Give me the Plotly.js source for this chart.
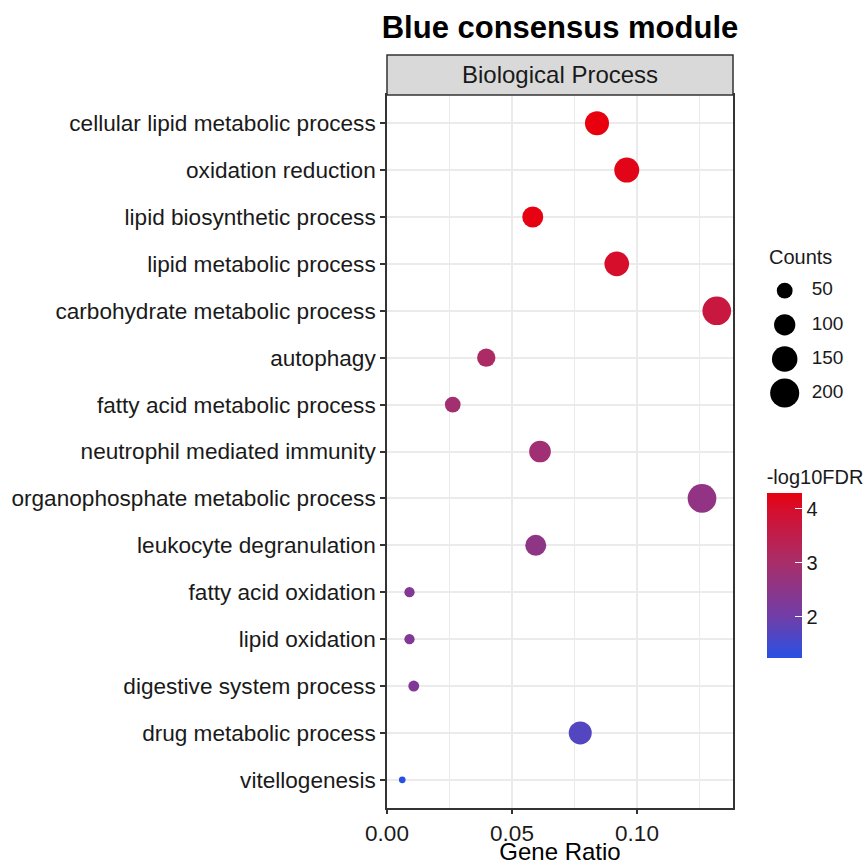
<!DOCTYPE html>
<html>
<head>
<meta charset="utf-8">
<script src="https://cdn.plot.ly/plotly-3.0.1.min.js"></script>
<style>html,body{margin:0;padding:0;background:#fff;}#chart{width:868px;height:865px;}</style>
</head>
<body>
<div id="chart"></div>
<script>
// ---- data (top to bottom as drawn) ----
const terms = [
  "cellular lipid metabolic process",
  "oxidation reduction",
  "lipid biosynthetic process",
  "lipid metabolic process",
  "carbohydrate metabolic process",
  "autophagy",
  "fatty acid metabolic process",
  "neutrophil mediated immunity",
  "organophosphate metabolic process",
  "leukocyte degranulation",
  "fatty acid oxidation",
  "lipid oxidation",
  "digestive system process",
  "drug metabolic process",
  "vitellogenesis"
];
const geneRatio = [0.084, 0.0959, 0.0583, 0.0919, 0.1319, 0.0397, 0.0263, 0.0612, 0.126, 0.0595, 0.0090, 0.0090, 0.0107, 0.0773, 0.0061];
const counts = [131, 143, 97, 139, 194, 71, 49, 104, 194, 97, 17, 17, 20, 119, 5];
const negLog10FDR = [4.29, 4.2, 4.25, 4.0, 3.7, 3.1, 2.9, 2.85, 2.6, 2.55, 2.3, 2.3, 2.3, 1.7, 1.24];
const sizeBreaks = [50, 100, 150, 200];
const sizeBreakLabels = ["50", "100", "150", "200"];
const xTickVals = [0, 0.05, 0.10];
const xTickText = ["0.00", "0.05", "0.10"];
const colorTickVals = [2, 3, 4];

// ---- styling ----
const FONT = "Liberation Sans, Arial, Helvetica, sans-serif";
const W = 868, H = 865;
const mL = 387, mR = 0, mT = 95, mB = 57;
const paperW = W - mL - mR;     // 481
const paperH = H - mT - mB;     // 713
const panelW = 346;
const px2x = px => (px - mL) / paperW;          // page px -> paper x
const py2y = py => (H - mB - py) / paperH;      // page px -> paper y
const sizeOf = c => 2.5 + 1.88 * Math.sqrt(c);   // diameter in px (area-like scale)

const cmin = 1.24, cmax = 4.29;
const colorscale = [
  [0.0, "rgb(40,80,228)"],
  [0.249, "rgb(112,62,168)"],
  [0.577, "rgb(168,46,106)"],
  [0.905, "rgb(214,14,44)"],
  [1.0, "rgb(232,0,14)"]
];

const main = {
  type: "scatter", mode: "markers",
  x: geneRatio, y: terms,
  xaxis: "x", yaxis: "y",
  showlegend: false,
  hoverinfo: "x+y",
  marker: {
    size: counts.map(sizeOf), sizemode: "diameter",
    color: negLog10FDR, cmin: cmin, cmax: cmax, colorscale: colorscale,
    line: {width: 0},
    opacity: 1,
    colorbar: {
      x: px2x(766.7), xref: "paper", xanchor: "left",
      y: py2y(658), yref: "paper", yanchor: "bottom",
      len: 192, lenmode: "pixels", thickness: 35, thicknessmode: "pixels",
      outlinewidth: 0, xpad: 0, ypad: 0,
      tickvals: colorTickVals, ticks: "inside", ticklen: 7, tickcolor: "#ffffff", tickwidth: 1.2,
      tickfont: {family: FONT, size: 20, color: "#1A1A1A"},
      title: {text: "-log10FDR", side: "top", font: {family: FONT, size: 20, color: "#1A1A1A"}}
    }
  }
};

// size legend (drawn on its own small axes)
const legendDots = {
  type: "scatter", mode: "markers",
  x: sizeBreaks.map(() => 0), y: sizeBreakLabels,
  xaxis: "x2", yaxis: "y2", showlegend: false, hoverinfo: "skip",
  marker: {size: sizeBreaks.map(sizeOf), sizemode: "diameter", color: "#000000", opacity: 1, line: {width: 0}}
};
const legendText = {
  type: "scatter", mode: "text",
  x: sizeBreaks.map(() => 1), y: sizeBreakLabels,
  text: sizeBreakLabels, textposition: "middle right",
  textfont: {family: FONT, size: 19, color: "#1A1A1A"},
  xaxis: "x2", yaxis: "y2", showlegend: false, hoverinfo: "skip"
};

// legend axes geometry: x=0 at marker centre (784.7px), 27 px per unit
const lx0 = 784.7, lux = 27;
const x2left = lx0 - 1 * lux, x2right = lx0 + 2.9 * lux;
const ly0 = 290.7, luy = 34.1;
const y2top = ly0 - 1.5 * luy, y2bot = ly0 + 3.5 * luy;

const layout = {
  width: W, height: H,
  margin: {l: mL, r: mR, t: mT, b: mB, pad: 0, autoexpand: false},
  paper_bgcolor: "#ffffff", plot_bgcolor: "#ffffff",
  font: {family: FONT, color: "#1A1A1A"},
  title: {
    text: "<b>Blue consensus module</b>",
    font: {family: FONT, size: 31, color: "#000000"},
    xref: "paper", x: (panelW / 2) / paperW, xanchor: "center",
    yref: "container", y: 1 - 27 / H, yanchor: "middle"
  },
  xaxis: {
    domain: [0, panelW / paperW],
    range: [0, 0.1384], autorange: false,
    tickvals: xTickVals, ticktext: xTickText,
    ticks: "outside", ticklen: 4, tickwidth: 1.5, tickcolor: "#333333",
    tickfont: {family: FONT, size: 22.5, color: "#1A1A1A"},
    showgrid: true, gridcolor: "#EBEBEB", gridwidth: 1.5,
    minor: {dtick: 0.025, tick0: 0, showgrid: true, gridcolor: "#EBEBEB", gridwidth: 0.8, ticks: ""},
    showline: true, mirror: true, linecolor: "#333333", linewidth: 1.5,
    zeroline: false, automargin: false,
    title: {text: "Gene Ratio", font: {family: FONT, size: 24, color: "#000000"}, standoff: 10}
  },
  yaxis: {
    domain: [0, 1],
    type: "category", categoryorder: "array", categoryarray: terms.slice().reverse(),
    range: [-0.6, 14.6], autorange: false,
    ticks: "outside", ticklen: 5, tickwidth: 1.5, tickcolor: "#333333",
    ticklabelstandoff: 0,
    tickfont: {family: FONT, size: 22.6, color: "#1A1A1A"},
    showgrid: true, gridcolor: "#EBEBEB", gridwidth: 1.5,
    showline: true, mirror: true, linecolor: "#333333", linewidth: 1.5,
    zeroline: false, automargin: false
  },
  xaxis2: {
    domain: [px2x(x2left), px2x(x2right)],
    range: [-1, 2.9], autorange: false, anchor: "y2",
    visible: false, fixedrange: true
  },
  yaxis2: {
    domain: [py2y(y2bot), py2y(y2top)],
    type: "category", categoryorder: "array", categoryarray: sizeBreakLabels,
    range: [3.5, -1.5], autorange: false, anchor: "x2",
    visible: false, fixedrange: true
  },
  shapes: [{
    type: "rect", xref: "paper", yref: "paper",
    x0: 0, x1: panelW / paperW, y0: 1, y1: 1 + 40 / paperH,
    fillcolor: "#D9D9D9", line: {color: "#333333", width: 1.5}
  }],
  annotations: [
    {
      text: "Biological Process", xref: "paper", yref: "paper",
      x: (panelW / 2) / paperW, y: 1 + 20 / paperH, xanchor: "center", yanchor: "middle",
      showarrow: false, font: {family: FONT, size: 24, color: "#1A1A1A"}
    },
    {
      text: "Counts", xref: "x2", yref: "y2",
      x: (767.3 - lx0) / lux, y: -1, xanchor: "left", yanchor: "middle",
      showarrow: false, font: {family: FONT, size: 20, color: "#1A1A1A"}
    }
  ]
};

Plotly.newPlot("chart", [main, legendDots, legendText], layout, {displayModeBar: false, responsive: false});
</script>
</body>
</html>
